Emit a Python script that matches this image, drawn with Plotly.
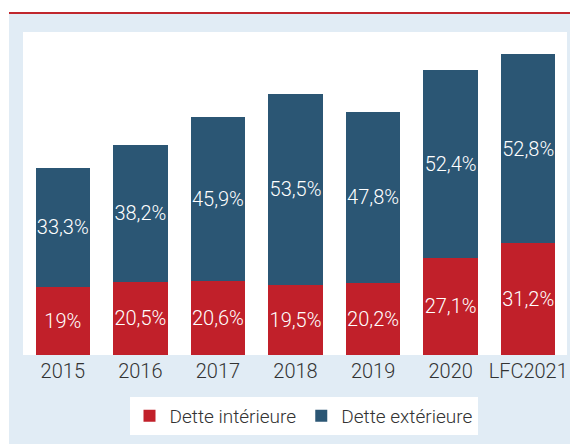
import plotly.graph_objects as go

categories = ["2015", "2016", "2017", "2018", "2019", "2020", "LFC2021"]
dette_interieure = [19.0, 20.5, 20.6, 19.5, 20.2, 27.1, 31.2]
dette_exterieure = [33.3, 38.2, 45.9, 53.5, 47.8, 52.4, 52.8]

def fr(v):
    s = f"{v:.1f}".replace(".", ",")
    if s.endswith(",0"):
        s = s[:-2]
    return s + "%"

RED = "#c1202a"
BLUE = "#2b5674"
BG = "#e1ecf5"
FONT = "Roboto, Liberation Sans, sans-serif"

W, H = 578, 444
L, R, T, B = 16, 19, 24, 97

fig = go.Figure()
fig.add_trace(go.Bar(
    x=categories, y=dette_interieure, name="Dette intérieure",
    marker=dict(color=RED, line=dict(width=0)),
    text=[fr(v) for v in dette_interieure], textposition="inside",
    insidetextanchor="middle", textangle=0,
    textfont=dict(color="white", size=20, family=FONT, weight=300),
))
fig.add_trace(go.Bar(
    x=categories, y=dette_exterieure, name="Dette extérieure",
    marker=dict(color=BLUE, line=dict(width=0)),
    text=[fr(v) for v in dette_exterieure], textposition="inside",
    insidetextanchor="middle", textangle=0,
    textfont=dict(color="white", size=20, family=FONT, weight=300),
))

pw = W - L - R
ph = H - T - B
def px(x):
    return (x - L) / pw
def py(y):
    return (H - B - y) / ph

fig.update_layout(
    width=W, height=H,
    barmode="stack", bargap=0.30,
    paper_bgcolor="white", plot_bgcolor="white",
    margin=dict(l=L, r=R, t=T, b=B, pad=0, autoexpand=False),
    font=dict(family=FONT, size=20, color="#333333", weight=300),
    uniformtext=dict(minsize=20, mode="show"),
    xaxis=dict(showgrid=False, showline=False, ticks="", automargin=False,
               ticklabelstandoff=2,
               tickfont=dict(size=20, color="#333333", family=FONT, weight=300)),
    yaxis=dict(range=[0, 90.2], visible=False, showgrid=False, automargin=False),
    legend=dict(orientation="h", x=px(295.5), xanchor="center", y=py(389), yanchor="top",
                bgcolor="white", borderwidth=0, itemwidth=30,
                font=dict(size=19, color="#333333", family=FONT, weight=300),
                traceorder="normal"),
    shapes=[
        dict(type="rect", xref="paper", yref="paper", x0=px(1), x1=px(W + 5), y0=py(H + 5), y1=py(6),
             fillcolor=BG, line=dict(width=0), layer="below"),
        dict(type="rect", xref="paper", yref="paper", x0=px(15), x1=px(559), y0=py(347), y1=py(24),
             fillcolor="white", line=dict(width=0), layer="below"),
        dict(type="line", xref="paper", yref="paper", x0=px(1), x1=px(W + 5), y0=py(5), y1=py(5),
             line=dict(color="#c0272d", width=2)),
    ],
)

fig.write_html("out.html")
